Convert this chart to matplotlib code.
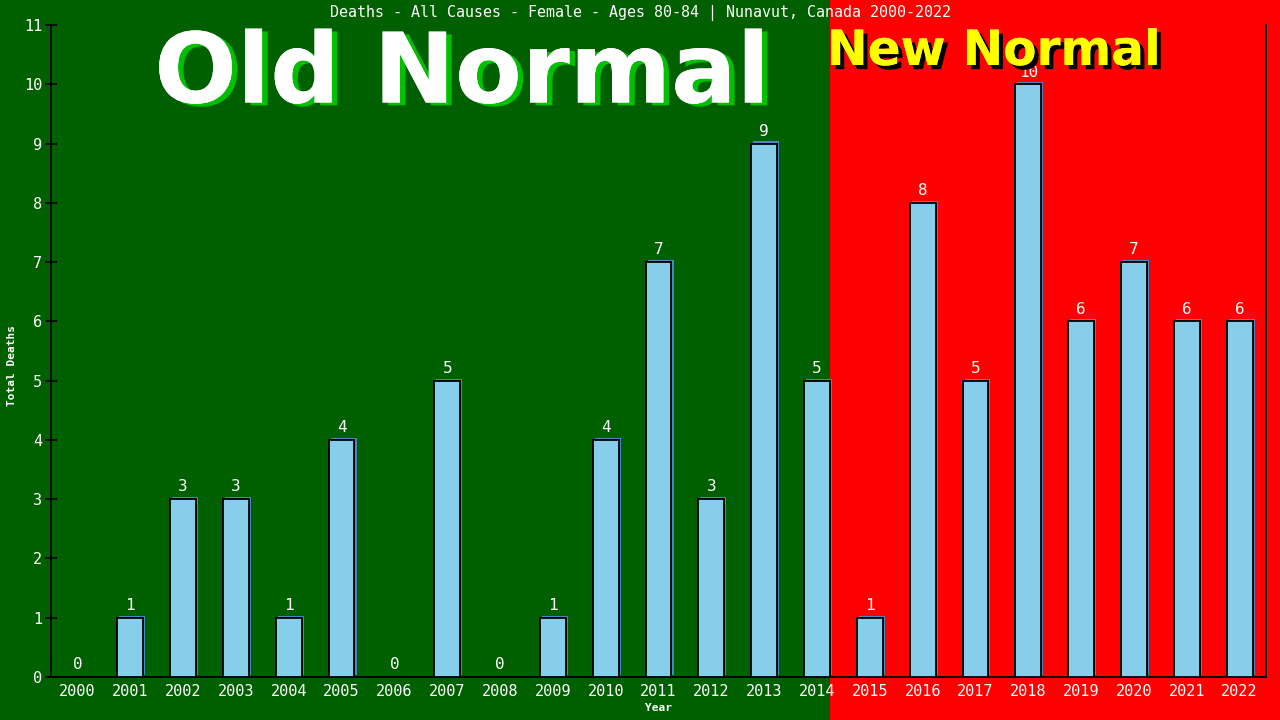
import matplotlib
matplotlib.use("Agg")
import matplotlib.pyplot as plt
import matplotlib.patheffects as pe
from matplotlib.patches import Rectangle

years = [str(y) for y in range(2000, 2023)]
deaths = [0, 1, 3, 3, 1, 4, 0, 5, 0, 1, 4, 7, 3, 9, 5, 1, 8, 5, 10, 6, 7, 6, 6]
title = "Deaths - All Causes - Female - Ages 80-84 | Nunavut, Canada 2000-2022"

GREEN = "#006000"
RED = "#ff0000"
MONO = "DejaVu Sans Mono"
W, H = 1280, 720
fig = plt.figure(figsize=(12.8, 7.2), dpi=100)
fig.patch.set_facecolor(GREEN)
fig.patches.append(Rectangle((830 / W, 0), 1 - 830 / W, 1, transform=fig.transFigure,
                             facecolor=RED, edgecolor="none", zorder=-10))

ax = fig.add_axes([51 / W, 1 - 677 / H, (1266 - 51) / W, (677 - 25) / H])
ax.set_facecolor("none")
x = list(range(len(years)))
bars = ax.bar(x, deaths, width=0.49, color="#87ceeb", edgecolor="black", linewidth=1.3, zorder=3)
for b in bars:
    b.set_path_effects([pe.withSimplePatchShadow(offset=(1.5, 1.5), shadow_rgbFace="#4a86c0", alpha=1),
                        pe.Normal()])
for xi, v in zip(x, deaths):
    ax.text(xi, v + 0.08, str(v), ha="center", va="bottom", color="white",
            family=MONO, fontsize=11.5, zorder=6)
ax.set_xlim(-0.5, len(years) - 0.5)
ax.set_ylim(0, 11)
ax.set_xticks(x)
ax.set_xticklabels(years, family=MONO, fontsize=11, color="white")
ax.set_yticks(range(0, 12))
ax.set_yticklabels([str(i) for i in range(12)], family=MONO, fontsize=11, color="white")
ax.tick_params(axis="x", length=0, pad=5)
ax.tick_params(axis="y", direction="inout", length=9, color="black", width=1.2, pad=2)
ax.spines["top"].set_visible(False)
for s in ["left", "bottom", "right"]:
    ax.spines[s].set_color("black")
    ax.spines[s].set_linewidth(1.3)
ax.set_xlabel("Year", family=MONO, fontsize=8, color="white", fontweight="bold", labelpad=3)
fig.text(12 / W, 1 - 366 / H, "Total Deaths", rotation=90, ha="center", va="center",
         family=MONO, fontsize=8, color="white", fontweight="bold")

fig.text(640 / W, 1 - 13 / H, title, ha="center", va="center", color="white",
         family=MONO, fontsize=10.8)

fig.text(462 / W, 1 - 76 / H, "Old Normal", ha="center", va="center", color="white",
         family="DejaVu Sans", fontweight="bold", fontsize=70, zorder=2,
         path_effects=[pe.withSimplePatchShadow(offset=(4, -2), shadow_rgbFace="#00c000", alpha=1), pe.Normal()])
fig.text(994 / W, 1 - 51 / H, "New Normal", ha="center", va="center", color="#ffff00",
         family="DejaVu Sans", fontweight="bold", fontsize=35, zorder=2,
         path_effects=[pe.withSimplePatchShadow(offset=(3, -3), shadow_rgbFace="black", alpha=1), pe.Normal()])

fig.savefig("out.png", dpi=100, facecolor=fig.get_facecolor())
